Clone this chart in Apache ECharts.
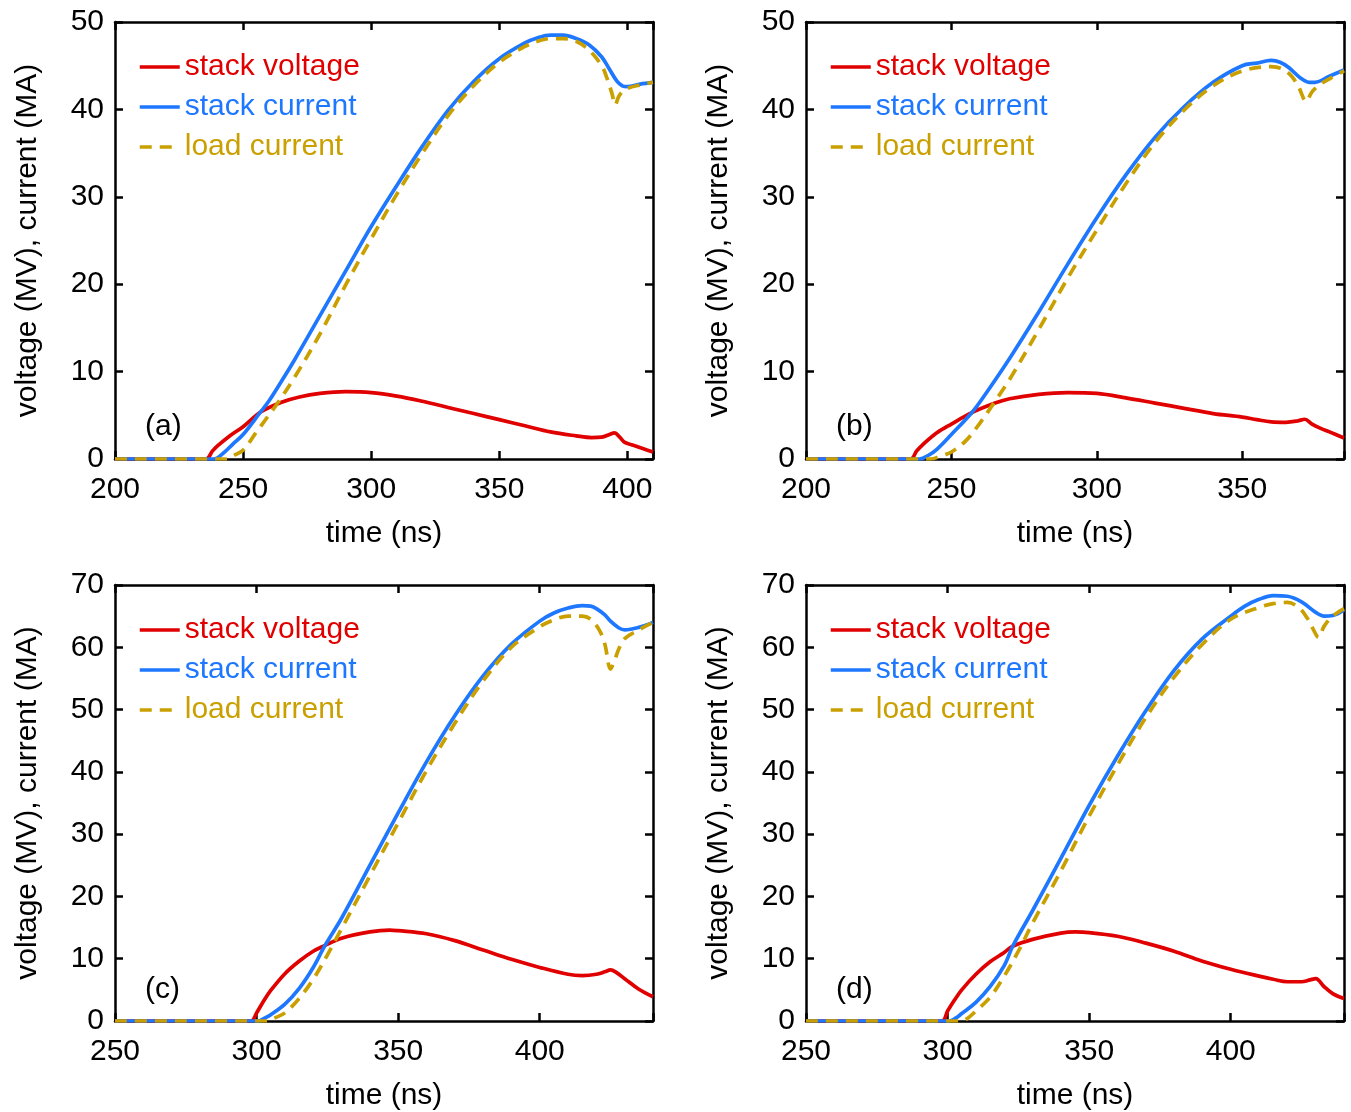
<!DOCTYPE html>
<html>
<head>
<meta charset="utf-8">
<script src="https://cdn.jsdelivr.net/npm/echarts@6/dist/echarts.min.js"></script>
<style>
html,body{margin:0;padding:0;background:#fff;}
#chart{width:1351px;height:1112px;}
</style>
</head>
<body>
<div id="chart"></div>
<script>
// ---------- data (time ns, value) ----------
const seriesNames = ['stack voltage', 'stack current', 'load current'];
const panelLabels = ['(a)', '(b)', '(c)', '(d)'];
const xLabelName = 'time (ns)';
const yLabelName = 'voltage (MV), current (MA)';

const aVolt = [[200,0],[235.5,0],[238,0.9],[240,1.5],[245,2.7],[250,3.7],[257,5.4],[265,6.5],[272,7.1],[280,7.5],[290,7.7],[300,7.6],[310,7.2],[320,6.6],[330,5.9],[340,5.2],[350,4.5],[360,3.8],[370,3.1],[380,2.65],[386,2.45],[390,2.5],[393,2.8],[395,3.0],[397,2.5],[399,1.9],[402,1.6],[406,1.2],[410,0.8]];
const aStack = [[200,0],[238.5,0],[242,0.6],[246,1.7],[250,2.8],[256.6,5.3],[260,6.6],[265,8.9],[270,11.3],[280,16.4],[290,21.5],[300,26.6],[310,31.3],[320,35.8],[330,39.9],[340,43.2],[350,45.8],[360,47.6],[365,48.2],[370,48.5],[375,48.5],[380,48.1],[385,47.4],[390,46.0],[393,44.6],[396,43.2],[398,42.7],[400,42.6],[405,42.9],[410,43.1]];
const aLoad = [[200,0],[243.5,0],[247,0.5],[250,1.0],[255,3.0],[260,5.0],[263.5,6.4],[270,9.3],[280,14.3],[290,19.9],[300,25.2],[310,30.3],[320,35.0],[330,39.3],[340,42.7],[350,45.4],[360,47.2],[365,47.8],[370,48.1],[375,48.1],[380,47.8],[385,46.8],[390,45.0],[392,43.6],[394,41.8],[395.3,40.5],[396.5,41.4],[398,42.0],[400,42.4],[405,42.8],[410,43.1]];

const bVolt = [[200,0],[236,0],[238,0.9],[240,1.6],[245,3.0],[250,4.0],[257,5.3],[265,6.4],[270,6.9],[280,7.4],[290,7.6],[300,7.5],[310,7.0],[320,6.4],[330,5.8],[340,5.2],[350,4.8],[355,4.5],[360,4.25],[365,4.2],[369,4.35],[371.5,4.55],[374,4.0],[377,3.5],[380,3.1],[385,2.4]];
const bStack = [[200,0],[239,0],[242,0.4],[245,1.1],[250,2.8],[257,5.3],[260,6.6],[270,11.5],[280,16.8],[290,22.3],[300,27.6],[310,32.5],[320,36.8],[330,40.3],[340,43.1],[350,45.0],[355,45.3],[360,45.6],[363,45.4],[366,44.8],[370,43.6],[373,43.1],[375,43.1],[380,43.8],[385,44.5]];
const bLoad = [[200,0],[243,0],[246,0.3],[250,0.8],[255,2.1],[260,4.2],[265,6.6],[270,9.1],[280,14.8],[290,20.7],[300,26.2],[310,31.5],[320,36.2],[330,39.9],[340,42.7],[350,44.4],[360,44.9],[364,44.6],[367,43.8],[369.5,42.5],[372,40.9],[374,42.0],[377,42.9],[380,43.5],[385,44.4]];

const cVolt = [[250,0],[298,0],[300,1.3],[302.5,3.2],[305,4.9],[310,7.6],[315,9.6],[320,11.2],[324,12.1],[330,13.3],[340,14.3],[347,14.6],[350,14.5],[360,14.0],[370,12.9],[380,11.4],[390,9.9],[400,8.6],[410,7.5],[415,7.3],[420,7.5],[423,7.9],[425,8.2],[427,7.8],[430,6.8],[435,5.1],[440,3.9]];
const cStack = [[250,0],[300.5,0],[303,0.5],[305,1.0],[310,2.7],[315,5.2],[320,8.6],[324,12.0],[330,16.5],[340,25.0],[350,33.4],[360,41.6],[370,49.0],[380,55.4],[390,60.5],[400,64.2],[405,65.5],[410,66.3],[415,66.7],[418,66.6],[420,66.2],[423,65.2],[425,64.2],[428,63.1],[430,62.8],[435,63.2],[440,64.0]];
const cLoad = [[250,0],[304,0],[306,0.4],[310,1.3],[315,3.6],[320,6.7],[325,10.6],[330,14.8],[340,23.3],[350,31.8],[360,40.2],[370,47.8],[380,54.6],[390,60.0],[400,63.3],[405,64.4],[410,65.0],[415,65.0],[418,64.5],[421,62.8],[423,60.5],[425,56.5],[426.5,58.0],[428,59.8],[430,61.4],[435,62.8],[440,64.0]];

const dVolt = [[250,0],[298,0],[300,1.6],[302.5,3.4],[305,5.0],[310,7.5],[315,9.5],[320,11.0],[323,12.0],[330,13.1],[340,14.1],[345,14.3],[350,14.2],[360,13.6],[370,12.5],[380,11.2],[390,9.6],[400,8.3],[410,7.2],[415,6.7],[420,6.3],[425,6.3],[428,6.6],[430,6.8],[433,5.5],[436,4.4],[440,3.6]];
const dStack = [[250,0],[300.5,0],[303,0.5],[305,1.2],[310,3.0],[315,5.5],[320,8.9],[323,12.0],[330,17.7],[340,26.1],[350,34.6],[360,42.5],[370,49.8],[380,56.3],[390,61.4],[400,65.0],[405,66.6],[410,67.7],[415,68.3],[420,68.2],[425,67.3],[430,65.6],[433,65.0],[436,65.1],[440,66.0]];
const dLoad = [[250,0],[305,0],[307,0.4],[310,1.6],[315,3.8],[320,7.2],[325,11.2],[330,15.7],[340,24.1],[350,32.9],[360,41.1],[370,48.7],[380,55.2],[390,60.5],[400,64.5],[410,66.4],[415,67.0],[420,67.2],[424,66.4],[427,64.7],[429,63.0],[431,61.6],[433,63.4],[436,65.0],[440,66.2]];

const xMins = [200, 200, 250, 250];
const xMaxs = [410, 385, 440, 440];
const yMaxs = [50, 50, 70, 70];
const panelData = [[aVolt, aStack, aLoad], [bVolt, bStack, bLoad], [cVolt, cStack, cLoad], [dVolt, dStack, dLoad]];

// ---------- styling / layout ----------
const FONT = '"Liberation Sans", Arial, Helvetica, sans-serif';
const FS = 30;
const COLORS = ['#e00000', '#1e78ff', '#c9a000'];
const LINE_TYPES = ['solid', 'solid', [12, 8]];
const gridPos = [
  {left: 115, top: 22}, {left: 806, top: 22},
  {left: 115, top: 585}, {left: 806, top: 585}
];
const GW = 538, GH = 437;

const axisLine = {show: true, onZero: false, lineStyle: {color: '#000', width: 2.5}};
const axisTick = {show: true, inside: true, length: 8, lineStyle: {color: '#000', width: 2.5}};

const option = {
  animation: false,
  backgroundColor: '#fff',
  grid: [], xAxis: [], yAxis: [], series: [], legend: [], title: []
};

for (let i = 0; i < 4; i++) {
  const g = gridPos[i];
  option.grid.push({left: g.left, top: g.top, width: GW, height: GH, containLabel: false});
  option.xAxis.push({
    gridIndex: i, type: 'value', position: 'bottom', min: xMins[i], max: xMaxs[i], interval: 50,
    axisLine, axisTick, splitLine: {show: false},
    axisLabel: {fontSize: FS, color: '#000', fontFamily: FONT, margin: 16,
      formatter: v => (v % 50 === 0 ? String(v) : '')},
    name: xLabelName, nameLocation: 'middle', nameGap: 60,
    nameTextStyle: {fontSize: FS, color: '#000', fontFamily: FONT}
  });
  option.xAxis.push({
    gridIndex: i, type: 'value', position: 'top', min: xMins[i], max: xMaxs[i], interval: 50,
    axisLine, axisTick, splitLine: {show: false}, axisLabel: {show: false}
  });
  option.yAxis.push({
    gridIndex: i, type: 'value', position: 'left', min: 0, max: yMaxs[i], interval: 10,
    axisLine, axisTick, splitLine: {show: false},
    axisLabel: {fontSize: FS, color: '#000', fontFamily: FONT, margin: 11},
    name: yLabelName, nameLocation: 'middle', nameGap: 72, nameRotate: 90,
    nameTextStyle: {fontSize: FS, color: '#000', fontFamily: FONT}
  });
  option.yAxis.push({
    gridIndex: i, type: 'value', position: 'right', min: 0, max: yMaxs[i], interval: 10,
    axisLine, axisTick, splitLine: {show: false}, axisLabel: {show: false}
  });
  for (let s = 0; s < 3; s++) {
    option.series.push({
      type: 'line', name: seriesNames[s], data: panelData[i][s],
      xAxisIndex: 2 * i, yAxisIndex: 2 * i,
      symbol: 'none', smooth: 0.35, clip: true,
      itemStyle: {color: COLORS[s]},
      lineStyle: {color: COLORS[s], width: 3.7, type: LINE_TYPES[s]},
      z: 2 + s
    });
  }
  option.legend.push({
    orient: 'vertical', left: g.left + 18, top: g.top + 25,
    itemWidth: 40, itemHeight: 14, itemGap: 10, selectedMode: false, padding: 5,
    itemStyle: {color: 'rgba(0,0,0,0)', borderWidth: 0, opacity: 0},
    lineStyle: {width: 3.5},
    textStyle: {fontSize: FS, lineHeight: 30, fontFamily: FONT},
    data: seriesNames.map((n, s) => ({name: n, textStyle: {color: COLORS[s]}}))
  });
  option.title.push({
    text: panelLabels[i], left: g.left + 25, top: g.top + 385,
    textStyle: {fontSize: FS, fontWeight: 'normal', color: '#000', fontFamily: FONT}
  });
}

const chart = echarts.init(document.getElementById('chart'), null, {renderer: 'canvas'});
chart.setOption(option);
</script>
</body>
</html>
